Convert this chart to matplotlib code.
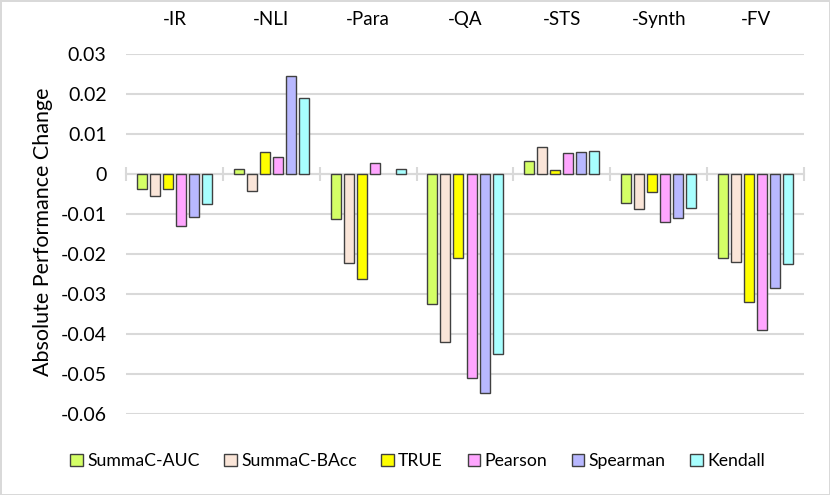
import numpy as np
import matplotlib
matplotlib.use('Agg')
import matplotlib.pyplot as plt

# 数据（从图上读出来的）
categories = ['-IR', '-NLI', '-Para', '-QA', '-STS', '-Synth', '-FV']
methods = ['SummaC-AUC', 'SummaC-BAcc', 'TRUE', 'Pearson', 'Spearman', 'Kendall']

summac_auc = [-0.0038, 0.0013, -0.0112, -0.0326, 0.0032, -0.0073, -0.0211]
summac_bacc = [-0.0054, -0.0042, -0.0222, -0.0419, 0.0067, -0.0088, -0.0219]
true_vals = [-0.0038, 0.0054, -0.0263, -0.0209, 0.0009, -0.0045, -0.0320]
pearson = [-0.0129, 0.0043, 0.0027, -0.0511, 0.0052, -0.0121, -0.0390]
spearman = [-0.0108, 0.0246, np.nan, -0.0548, 0.0054, -0.0110, -0.0285]  # Para 为 0，不画
kendall = [-0.0076, 0.0189, 0.0013, -0.0451, 0.0058, -0.0086, -0.0225]

colors = ['#d4ff66', '#fae5d8', '#ffff00', '#ffa6ff', '#b8b8ff', '#a8ffff']

plt.rcParams['font.family'] = ['Lato', 'DejaVu Sans']

fig = plt.figure(figsize=(8.3, 4.95), dpi=100)
fig.patch.set_edgecolor('#d9d9d9')
fig.patch.set_linewidth(2)
ax = fig.add_axes([126/830, (495-414)/495, (804-126)/830, 360/495])

x = np.arange(len(categories))
pitch = 0.1345
width = 0.103
series = [summac_auc, summac_bacc, true_vals, pearson, spearman, kendall]
for i, (vals, name, c) in enumerate(zip(series, methods, colors)):
    ax.bar(x + (i - 2.5) * pitch, vals, width, color=c, edgecolor='#404040',
           linewidth=1, label=name, zorder=3)

ax.set_xlim(-0.5, len(categories) - 0.5)
ax.set_ylim(-0.06, 0.03)
ax.set_yticks(np.arange(-0.06, 0.031, 0.01))
ax.set_yticklabels(['-0.06', '-0.05', '-0.04', '-0.03', '-0.02', '-0.01', '0',
                    '0.01', '0.02', '0.03'])
ax.yaxis.grid(True, color='#d9d9d9', linewidth=1.5, zorder=0)
ax.tick_params(axis='y', length=0, labelsize=14, pad=14)

# 类别标签放在上面，零线上有分隔小刻度
ax.set_xticks(x)
ax.set_xticklabels(categories)
ax.set_xticks(np.arange(-0.5, len(categories), 1), minor=True)
ax.tick_params(axis='x', which='major', bottom=False, top=False,
               labelbottom=False, labeltop=True, labelsize=13.5, pad=15)
ax.tick_params(axis='x', which='minor', bottom=True, top=False,
               direction='inout', length=10, width=1.5, color='#d9d9d9')

for s in ['top', 'right', 'left']:
    ax.spines[s].set_visible(False)
ax.spines['bottom'].set_position(('data', 0))
ax.spines['bottom'].set_color('#d9d9d9')
ax.spines['bottom'].set_linewidth(1.5)
ax.spines['bottom'].set_zorder(2)

ax.set_ylabel('Absolute Performance Change', fontsize=15.5)
ax.yaxis.set_label_coords(-0.1077, 0.506)

fig.legend(loc='center', bbox_to_anchor=(0.503, 1 - 461/495), ncol=6,
           frameon=False, fontsize=12.7, handlelength=0.7, handleheight=0.7,
           handletextpad=0.25, columnspacing=1.4)

fig.savefig('out.png', dpi=100, edgecolor=fig.get_edgecolor())
